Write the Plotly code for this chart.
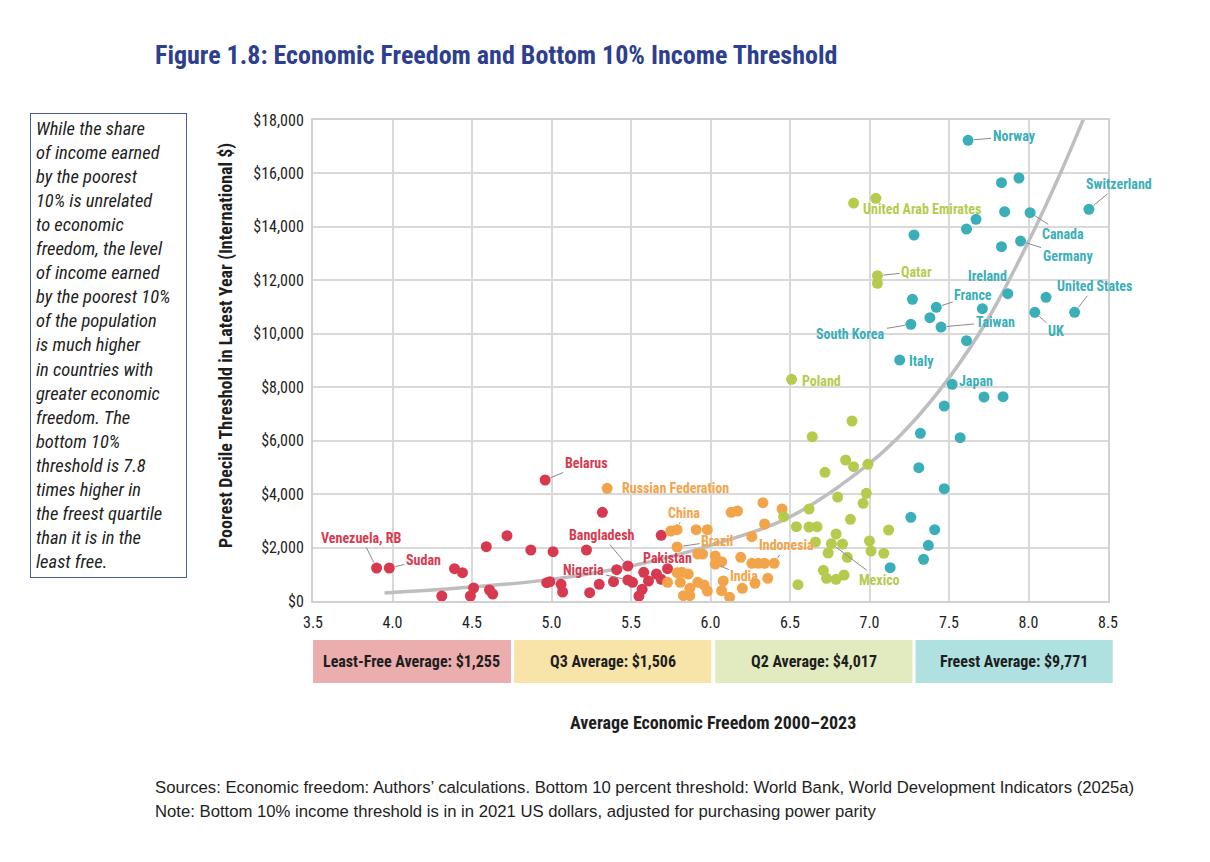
import plotly.graph_objects as go

# Data (freedom score, bottom-decile threshold in $)
least_x = [3.90, 3.98, 4.31, 4.39, 4.44, 4.49, 4.51, 4.59, 4.61, 4.63, 4.72, 4.87, 4.96, 4.97, 4.99,
           5.01, 5.06, 5.07, 5.22, 5.24, 5.30, 5.32, 5.39, 5.41, 5.48, 5.48, 5.51, 5.55, 5.57, 5.58,
           5.61, 5.66, 5.69, 5.69, 5.73]
least_y = [1235, 1235, 187, 1209, 1059, 187, 486, 2032, 412, 262, 2444, 1908, 4528, 685, 722,
           1845, 625, 337, 1908, 311, 625, 3319, 722, 1171, 1310, 786, 700, 187, 438, 1074,
           748, 1010, 812, 2458, 1209]
least_labels = {0: "Venezuela, RB", 1: "Sudan", 12: "Belarus", 24: "Bangladesh", 25: "Nigeria", 34: "Pakistan"}

q3_x = [5.35, 5.75, 5.79, 5.91, 5.98, 6.13, 6.17, 6.33, 6.45, 6.34, 6.26, 5.79, 5.92, 5.95, 6.03,
        6.19, 6.03, 6.07, 6.26, 6.30, 6.34, 6.40, 5.79, 5.82, 5.86, 5.73, 5.81, 5.92, 5.96, 5.98,
        5.87, 5.83, 5.87, 6.08, 6.07, 6.12, 6.20, 6.28, 6.36]
q3_y = [4217, 2619, 2668, 2668, 2668, 3319, 3368, 3678, 3443, 2881, 2406, 2021, 1759, 1759, 1684,
        1635, 1385, 1471, 1411, 1411, 1411, 1411, 1059, 1074, 1010, 700, 700, 700, 599, 374,
        475, 198, 198, 748, 385, 138, 475, 662, 849]
q3_labels = {0: "Russian Federation", 2: "China", 11: "Brazil", 16: "India", 21: "Indonesia"}

q2_x = [6.51, 6.90, 7.04, 7.05, 7.05, 6.89, 6.64, 6.85, 6.90, 6.99, 6.72, 6.98, 6.80, 6.96, 6.62,
        6.46, 6.88, 6.54, 6.62, 6.67, 7.12, 6.79, 6.66, 6.76, 6.83, 7.00, 7.01, 7.09, 6.74, 6.86,
        6.71, 6.73, 6.79, 6.84, 6.55]
q2_y = [8296, 14893, 15069, 12173, 11889, 6736, 6148, 5276, 5026, 5115, 4816, 4030, 3892, 3656, 3443,
        3155, 3057, 2780, 2769, 2780, 2657, 2507, 2208, 2144, 2133, 2245, 1871, 1785, 1796, 1635,
        1149, 849, 812, 973, 610]
q2_labels = {0: "Poland", 2: "United Arab Emirates", 3: "Qatar", 23: "Mexico"}

free_x = [7.62, 7.83, 7.94, 7.67, 7.85, 8.01, 8.38, 7.61, 7.28, 7.95, 7.83, 7.27, 7.42, 7.87, 8.11,
          7.71, 8.04, 8.29, 7.38, 7.45, 7.26, 7.61, 7.19, 7.52, 7.72, 7.84, 7.47, 7.32, 7.57, 7.31,
          7.47, 7.26, 7.41, 7.37, 7.34, 7.13]
free_y = [17240, 15653, 15829, 14283, 14568, 14530, 14657, 13920, 13696, 13471, 13258, 11290, 10990, 11499, 11365,
          10938, 10803, 10803, 10601, 10253, 10354, 9740, 9018, 8109, 7634, 7645, 7297, 6275, 6111, 4988,
          4202, 3132, 2668, 2084, 1560, 1246]
free_labels = {0: "Norway", 5: "Canada", 6: "Switzerland", 9: "Germany", 12: "France", 13: "Ireland",
               16: "UK", 17: "United States", 19: "Taiwan", 20: "South Korea", 22: "Italy", 23: "Japan"}

# trend curve, read at a handful of x positions
trend_x = [3.95, 4.5, 5.0, 5.5, 6.0, 6.5, 7.0, 7.25, 7.5, 7.75, 8.0, 8.2, 8.35]
trend_y = [300, 520, 810, 1310, 2080, 3150, 5150, 6550, 8350, 10600, 13450, 16000, 18100]

quartile_labels = ["Least-Free Average: $1,255", "Q3 Average: $1,506", "Q2 Average: $4,017", "Freest Average: $9,771"]

groups = [
    (least_x, least_y, least_labels, "#D73A50"),
    (q3_x, q3_y, q3_labels, "#F2A44A"),
    (q2_x, q2_y, q2_labels, "#B6CB4E"),
    (free_x, free_y, free_labels, "#3AAFB8"),
]
box_colors = ["#EBADAD", "#F8E4A8", "#E2EABF", "#AEE1E0"]

# label offsets in pixels, screen direction (dx right, dy down), leader line?
label_pos = {
    "Norway": (46, -4, True), "Switzerland": (30, -25, True), "United Arab Emirates": (46, 11, False),
    "Canada": (33, 21, True), "Germany": (47, 15, True), "Qatar": (39, -4, True),
    "Ireland": (-20, -18, False), "France": (37, -12, True), "United States": (20, -26, True),
    "Taiwan": (54, -5, True), "UK": (21, 19, True), "South Korea": (-60, 10, True),
    "Italy": (22, 1, False), "Poland": (30, 2, False), "Japan": (24, -3, False),
    "Belarus": (41, -17, True), "Russian Federation": (68, 0, False), "China": (7, -17, True),
    "Brazil": (40, -6, True), "Indonesia": (12, -18, True), "India": (29, 12, True),
    "Mexico": (48, 36, True), "Venezuela, RB": (-15, -30, True), "Sudan": (34, -8, True),
    "Bangladesh": (-26, -31, True), "Nigeria": (-44, -10, True), "Pakistan": (0, -11, False),
}

COND = "Liberation Sans Narrow, Roboto Condensed, DejaVu Sans Condensed, sans-serif"

fig = go.Figure()

fig.add_trace(go.Scatter(x=trend_x, y=trend_y, mode="lines", line=dict(color="#BEBEBE", width=3.5, shape="spline"),
                         hoverinfo="skip", showlegend=False))

annotations = []
for xs, ys, labels, color in groups:
    fig.add_trace(go.Scatter(x=xs, y=ys, mode="markers", marker=dict(color=color, size=11),
                             showlegend=False))
    for i, name in labels.items():
        dx, dy, line = label_pos[name]
        lab_font = dict(family=COND, size=14, color=color, weight="bold")
        if line:
            annotations.append(dict(x=xs[i], y=ys[i], text=name, showarrow=True, arrowhead=0,
                                    arrowwidth=1, arrowcolor="#8A8A8A", ax=dx, ay=dy, standoff=6,
                                    font=lab_font))
        else:
            annotations.append(dict(x=xs[i], y=ys[i], text=name, showarrow=False,
                                    xshift=dx, yshift=-dy, font=lab_font))

# quartile boxes under the x axis
box_edges = [(0.0, 0.249), (0.253, 0.501), (0.506, 0.754), (0.758, 1.006)]
shapes = []
for (x0, x1), col, txt in zip(box_edges, box_colors, quartile_labels):
    shapes.append(dict(type="rect", xref="paper", yref="paper", x0=x0, x1=x1, y0=-0.1705, y1=-0.081,
                       fillcolor=col, line=dict(width=0), layer="below"))
    annotations.append(dict(xref="paper", yref="paper", x=(x0 + x1) / 2, y=-0.1258, text=txt,
                            xanchor="center", yanchor="middle", showarrow=False,
                            font=dict(family=COND, size=16, color="#1E1E1E", weight="bold")))

annotations += [
    dict(xref="paper", yref="paper", x=0.503, y=-0.2536, xanchor="center", yanchor="middle",
         text="Average Economic Freedom 2000–2023",
         showarrow=False, font=dict(family=COND, size=18, color="#1E1E1E", weight="bold")),
    dict(xref="paper", yref="paper", x=-0.1094, y=0.530, xanchor="center", yanchor="middle", textangle=-90,
         text="Poorest Decile Threshold in Latest Year (International $)",
         showarrow=False, font=dict(family=COND, size=18, color="#1E1E1E", weight="bold")),
    dict(xref="paper", yref="paper", x=-0.2013, y=1.1351, xanchor="left", yanchor="middle",
         text="Figure 1.8: Economic Freedom and Bottom 10% Income Threshold",
         showarrow=False, font=dict(family=COND, size=26, color="#2D3F8E", weight="bold")),
    dict(xref="paper", yref="paper", x=-0.2572, y=0.5312, xanchor="center", yanchor="middle",
         text="<i>While the share<br>of income earned<br>by the poorest<br>10% is unrelated<br>to economic<br>"
              "freedom, the level<br>of income earned<br>by the poorest 10%<br>of the population<br>"
              "is much higher<br>in countries with<br>greater economic<br>freedom. The<br>bottom 10%<br>"
              "threshold is 7.8<br>times higher in<br>the freest quartile<br>than it is in the<br>least free.</i>",
         align="left", valign="middle", width=145, height=453, borderpad=5,
         bordercolor="#4A5C9E", borderwidth=1, showarrow=False,
         font=dict(family=COND, size=18.5, color="#1E1E1E")),
    dict(xref="paper", yref="paper", x=-0.2013, y=-0.3867, xanchor="left", yanchor="middle",
         text="Sources: Economic freedom: Authors’ calculations. Bottom 10 percent threshold: World Bank, "
              "World Development Indicators (2025a)",
         showarrow=False, font=dict(family="Liberation Sans, Arial, sans-serif", size=16.7, color="#1E1E1E")),
    dict(xref="paper", yref="paper", x=-0.2013, y=-0.4366, xanchor="left", yanchor="middle",
         text="Note: Bottom 10% income threshold is in in 2021 US dollars, adjusted for purchasing power parity",
         showarrow=False, font=dict(family="Liberation Sans, Arial, sans-serif", size=16.7, color="#1E1E1E")),
]

# page body has an 8px margin, so the figure is 8px smaller than the window
fig.update_layout(
    width=1202, height=854,
    margin=dict(l=305, r=102, t=112, b=261),
    paper_bgcolor="white", plot_bgcolor="white",
    annotations=annotations, shapes=shapes,
    xaxis=dict(range=[3.5, 8.5], dtick=0.5, tickformat=".1f", showgrid=True, gridcolor="#D9D9D9",
               gridwidth=1.5, showline=True, linecolor="#D0D0D0", linewidth=2, mirror=True, zeroline=False,
               ticks="", ticklabelstandoff=6, tickfont=dict(family=COND, size=16, color="#1E1E1E"),
               fixedrange=True),
    yaxis=dict(range=[0, 18000], dtick=2000, tickprefix="$", tickformat=",", showgrid=True,
               gridcolor="#D9D9D9", gridwidth=1.5, showline=True, linecolor="#D0D0D0", linewidth=2,
               mirror=True, zeroline=False, ticks="", ticklabelstandoff=4,
               tickfont=dict(family=COND, size=16, color="#1E1E1E"), fixedrange=True),
)

fig.write_html("out.html")
